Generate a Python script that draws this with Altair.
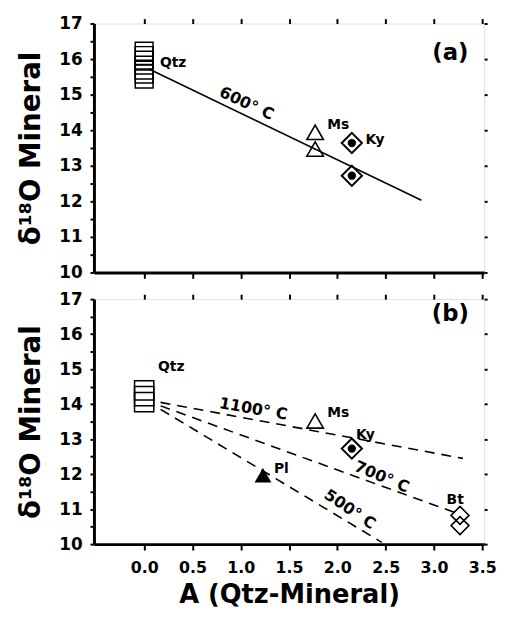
import altair as alt
import pandas as pd

FONT = "DejaVu Sans"

# ---------------- data ----------------
x_ticks = [0.0, 0.5, 1.0, 1.5, 2.0, 2.5, 3.0, 3.5]
y_ticks_major = [10, 11, 12, 13, 14, 15, 16, 17]
y_ticks_minor = [10, 10.5, 11, 11.5, 12, 12.5, 13, 13.5, 14, 14.5, 15, 15.5, 16, 16.5, 17]

# panel (a)
a_qtz_x = [0, 0, 0, 0, 0, 0, 0]
a_qtz_y = [16.22, 16.10, 15.97, 15.83, 15.69, 15.58, 15.44]
a_ms_x = [1.77, 1.77]
a_ms_y = [13.94, 13.47]
a_ky_x = [2.15, 2.15]
a_ky_y = [13.64, 12.72]
a_line_x = [0.05, 2.87]
a_line_y = [15.72, 12.03]
a_lab_text = ["Qtz", "Ms", "Ky"]
a_lab_x = [0.30, 2.01, 2.39]
a_lab_y = [15.89, 14.14, 13.72]
a_temp_text = ["600° C"]
a_temp_x = [1.06]
a_temp_y = [14.75]
a_temp_angle = [25]

# panel (b)
b_qtz_x = [0, 0, 0]
b_qtz_y = [14.39, 14.23, 14.06]
b_ms_x = [1.77]
b_ms_y = [13.52]
b_ky_x = [2.15]
b_ky_y = [12.73]
b_pl_x = [1.23]
b_pl_y = [11.97]
b_bt_x = [3.27, 3.27]
b_bt_y = [10.82, 10.53]
b_line_T = ["1100", "1100", "700", "700", "500", "500"]
b_line_x = [0.17, 3.30, 0.17, 3.27, 0.17, 2.46]
b_line_y = [14.05, 12.45, 13.95, 10.85, 13.85, 10.05]
b_lab_text = ["Qtz", "Ms", "Ky", "Pl", "Bt"]
b_lab_x = [0.28, 2.01, 2.29, 1.42, 3.22]
b_lab_y = [15.07, 13.75, 13.13, 12.14, 11.27]
b_temp_text = ["1100° C", "700° C", "500° C"]
b_temp_x = [1.13, 2.46, 2.13]
b_temp_y = [13.86, 11.92, 10.99]
b_temp_angle = [10, 23, 34]

XDOM = [-0.52, 3.52]
YDOM = [10, 17]
xs = alt.Scale(domain=XDOM, nice=False, zero=False)
ys = alt.Scale(domain=YDOM, nice=False, zero=False)


def df(x, y, **kw):
    d = {"x": x, "y": y}
    d.update(kw)
    return pd.DataFrame(d)


def enc_noaxis():
    return dict(x=alt.X("x:Q", scale=xs, axis=None), y=alt.Y("y:Q", scale=ys, axis=None))


def panel(qtz, ms, ky, pl, bt, lines, dashed, labels, temps, tag, tag_pos, show_xlabels, height, qsize):
    layers = []
    xaxis_kw = dict(
        orient="bottom", values=x_ticks, format=".1f", grid=False,
        domainColor="black", domainWidth=3, tickColor="black", tickWidth=2, tickSize=6,
        labelFont=FONT, labelFontWeight="bold", labelFontSize=16, labelColor="black",
        labelPadding=10, titleFont=FONT, titleFontWeight="bold", titleFontSize=26,
        titleColor="black", titlePadding=6,
    )
    if show_xlabels:
        xaxis = alt.Axis(title="A (Qtz-Mineral)", **xaxis_kw)
    else:
        xaxis = alt.Axis(title="", labels=False, **xaxis_kw)
    yaxis = alt.Axis(
        orient="left", values=y_ticks_minor, grid=False, title="δ¹⁸O Mineral",
        labelExpr="datum.value % 1 == 0 ? format(datum.value, 'd') : ''",
        domainColor="black", domainWidth=3, tickColor="black", tickWidth=2, tickSize=4,
        labelFont=FONT, labelFontWeight="bold", labelFontSize=17, labelColor="black",
        labelPadding=8, titleFont=FONT, titleFontWeight="bold", titleFontSize=28,
        titleColor="black", titlePadding=13,
    )
    if dashed:
        lm = alt.Chart(lines).mark_line(color="black", strokeWidth=1.6, strokeDash=[10, 7])
    else:
        lm = alt.Chart(lines).mark_line(color="black", strokeWidth=1.6)
    layers.append(lm.encode(
        x=alt.X("x:Q", scale=xs, axis=xaxis),
        y=alt.Y("y:Q", scale=ys, axis=yaxis),
        detail="T:N",
    ))
    layers.append(alt.Chart(qtz).mark_point(shape="square", filled=False, color="black",
                                            size=qsize, strokeWidth=1.5, opacity=1).encode(
        x=alt.X("x:Q", scale=xs, axis=alt.Axis(
            orient="top", values=x_ticks, labels=False, domain=False, grid=False, title="",
            tickColor="black", tickWidth=2, tickSize=5)),
        y=alt.Y("y:Q", scale=ys, axis=alt.Axis(
            orient="right", values=y_ticks_major, labels=False, domain=False, grid=False, title="",
            tickColor="black", tickWidth=2, tickSize=3)),
    ))
    if ms is not None:
        layers.append(alt.Chart(ms).mark_point(shape="triangle-up", filled=False, color="black",
                                               size=280, strokeWidth=1.6, opacity=1).encode(**enc_noaxis()))
    if ky is not None:
        layers.append(alt.Chart(ky).mark_point(shape="diamond", filled=False, color="black",
                                               size=420, strokeWidth=2, opacity=1).encode(**enc_noaxis()))
        layers.append(alt.Chart(ky).mark_point(shape="circle", filled=True, color="black",
                                               size=70, opacity=1).encode(**enc_noaxis()))
    if pl is not None:
        layers.append(alt.Chart(pl).mark_point(shape="triangle-up", filled=True, color="black",
                                               size=290, opacity=1).encode(**enc_noaxis()))
    if bt is not None:
        layers.append(alt.Chart(bt).mark_point(shape="diamond", filled=False, color="black",
                                               size=330, strokeWidth=1.6, opacity=1).encode(**enc_noaxis()))
    layers.append(alt.Chart(labels).mark_text(font=FONT, fontWeight="bold", fontSize=14,
                                              color="black", align="center", baseline="middle").encode(
        text="t:N", **enc_noaxis()))
    for i in range(len(temps["t"])):
        row = pd.DataFrame({"x": [temps["x"][i]], "y": [temps["y"][i]], "t": [temps["t"][i]]})
        layers.append(alt.Chart(row).mark_text(font=FONT, fontWeight="bold", fontSize=16,
                                               color="black", align="center", baseline="middle",
                                               angle=temps["a"][i]).encode(text="t:N", **enc_noaxis()))
    tagdf = pd.DataFrame({"x": [tag_pos[0]], "y": [tag_pos[1]], "t": [tag]})
    layers.append(alt.Chart(tagdf).mark_text(font=FONT, fontWeight="bold", fontSize=23,
                                             color="black", align="center", baseline="middle").encode(
        text="t:N", **enc_noaxis()))
    return alt.layer(*layers).resolve_axis(x="independent", y="independent").properties(
        width=395, height=height)


pa = panel(
    df(a_qtz_x, a_qtz_y), df(a_ms_x, a_ms_y), df(a_ky_x, a_ky_y), None, None,
    df(a_line_x, a_line_y, T=["600", "600"]), False,
    df(a_lab_x, a_lab_y, t=a_lab_text),
    {"t": a_temp_text, "x": a_temp_x, "y": a_temp_y, "a": a_temp_angle},
    "(a)", (3.17, 16.17), False, 252, 324,
)
pb = panel(
    df(b_qtz_x, b_qtz_y), df(b_ms_x, b_ms_y), df(b_ky_x, b_ky_y), df(b_pl_x, b_pl_y), df(b_bt_x, b_bt_y),
    df(b_line_x, b_line_y, T=b_line_T), True,
    df(b_lab_x, b_lab_y, t=b_lab_text),
    {"t": b_temp_text, "x": b_temp_x, "y": b_temp_y, "a": b_temp_angle},
    "(b)", (3.17, 16.56), True, 248, 380,
)

chart = alt.vconcat(pa, pb, spacing=8).properties(
    padding={"left": 9, "top": 2, "right": 0, "bottom": 0}
).configure_view(stroke="black", strokeWidth=2).configure(background="white")

chart.save("out.html", embed_options={"renderer": "svg", "actions": False})
